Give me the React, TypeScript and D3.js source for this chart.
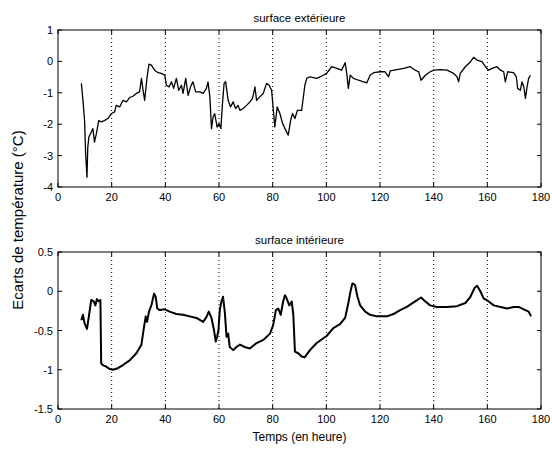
import React from "react";
import * as d3 from "d3";

const xTicks = [0, 20, 40, 60, 80, 100, 120, 140, 160, 180];
const gridHours = [20, 40, 60, 80, 100, 120, 140, 160];
const topTicks = [1, 0, -1, -2, -3, -4];
const bottomTicks = [0.5, 0, -0.5, -1, -1.5];

const extHours = [8.7,9.3,9.9,10.3,10.8,11.1,11.5,12.4,13.0,13.6,14.3,15.2,16.1,17.4,18.6,19.9,21.1,21.7,23.0,24.2,25.5,26.7,27.9,29.2,30.4,31.1,31.7,32.3,33.2,33.9,34.8,36.0,37.3,38.5,39.8,40.4,41.4,42.3,43.1,44.1,45.0,46.0,46.6,47.6,48.5,49.4,50.3,51.3,52.8,54.1,55.3,55.9,56.6,57.2,57.8,58.4,59.3,60.0,60.7,61.3,61.9,62.5,63.4,64.3,65.3,66.2,67.1,67.8,69.0,70.3,71.5,72.5,73.4,74.0,75.2,76.5,77.7,78.7,79.6,80.8,81.7,82.7,83.7,84.6,85.8,86.7,87.4,88.3,89.2,90.8,92.0,92.7,93.9,96.4,98.9,100.1,102.0,103.9,105.7,107.0,107.6,108.2,108.9,110.1,112.0,113.8,115.1,116.3,117.6,120.1,121.9,123.2,123.8,126.3,128.8,131.3,133.1,134.4,135.3,136.9,138.7,140.0,142.5,145.0,147.4,148.7,149.3,149.9,151.8,153.7,154.9,156.2,158.0,159.3,160.5,161.8,163.6,164.9,166.1,166.7,167.6,169.8,170.8,171.3,172.3,172.9,173.6,174.2,174.8,175.4,176.1];
const extValues = [-0.70,-1.24,-1.88,-2.94,-3.69,-2.73,-2.41,-2.25,-2.14,-2.57,-2.30,-1.88,-1.93,-1.88,-1.82,-1.66,-1.61,-1.40,-1.45,-1.24,-1.29,-1.15,-1.11,-1.02,-0.97,-0.54,-0.92,-1.24,-0.49,-0.09,-0.12,-0.28,-0.36,-0.38,-0.44,-0.76,-0.81,-0.65,-0.86,-0.54,-0.92,-0.76,-1.02,-0.54,-1.08,-0.81,-0.65,-0.97,-0.97,-1.02,-0.86,-0.65,-1.13,-2.14,-1.77,-1.66,-2.09,-1.98,-2.14,-1.34,-0.70,-0.65,-1.24,-1.45,-1.29,-1.50,-1.40,-1.56,-1.50,-1.40,-1.29,-1.18,-0.81,-1.24,-1.13,-1.02,-0.70,-0.76,-0.92,-2.09,-1.45,-1.66,-1.98,-2.14,-2.35,-1.88,-1.66,-1.82,-1.56,-1.56,-0.76,-0.54,-0.49,-0.54,-0.44,-0.38,-0.17,-0.22,-0.28,-0.04,-0.38,-0.86,-0.44,-0.54,-0.60,-0.65,-0.68,-0.44,-0.36,-0.33,-0.33,-0.49,-0.30,-0.26,-0.22,-0.17,-0.28,-0.33,-0.60,-0.44,-0.33,-0.28,-0.26,-0.28,-0.38,-0.49,-0.65,-0.38,-0.17,-0.01,0.13,0.04,-0.01,-0.17,-0.28,-0.22,-0.17,-0.28,-0.33,-0.65,-0.33,-0.36,-0.49,-0.86,-0.92,-0.65,-0.81,-1.18,-0.81,-0.54,-0.44];

const intHours = [8.7,9.3,9.9,10.8,11.5,12.4,13.3,13.9,14.5,15.2,15.8,16.1,16.7,18.0,19.2,20.5,22.3,24.2,26.7,29.2,31.1,31.9,32.7,33.2,33.9,34.8,35.8,36.4,37.0,37.9,39.8,41.6,44.1,46.6,49.1,51.6,54.1,55.3,56.2,57.2,58.1,58.8,59.3,59.8,60.3,60.9,61.5,62.2,62.8,63.4,64.0,65.3,66.5,67.8,69.6,71.5,74.0,76.5,79.0,80.2,81.2,82.1,83.0,83.9,84.6,85.2,86.2,87.1,87.7,88.3,89.5,90.8,92.0,93.9,96.4,100.1,102.6,105.1,107.0,108.2,108.9,109.7,110.7,111.6,112.6,114.5,116.3,118.8,122.6,125.0,127.5,130.0,133.1,135.3,136.9,138.7,141.2,145.0,148.7,151.8,153.7,155.2,156.2,157.4,158.6,160.5,162.4,164.9,167.4,169.8,171.7,173.6,175.4,176.3];
const intValues = [-0.37,-0.30,-0.41,-0.48,-0.32,-0.11,-0.13,-0.18,-0.10,-0.13,-0.11,-0.92,-0.94,-0.96,-0.99,-1.00,-0.98,-0.94,-0.88,-0.79,-0.68,-0.49,-0.32,-0.39,-0.26,-0.18,-0.03,-0.07,-0.22,-0.24,-0.23,-0.26,-0.29,-0.30,-0.32,-0.34,-0.39,-0.33,-0.26,-0.34,-0.49,-0.64,-0.58,-0.49,-0.24,-0.13,-0.07,-0.28,-0.58,-0.54,-0.71,-0.75,-0.71,-0.68,-0.71,-0.73,-0.66,-0.62,-0.54,-0.43,-0.24,-0.22,-0.30,-0.13,-0.05,-0.09,-0.18,-0.13,-0.30,-0.77,-0.79,-0.83,-0.84,-0.75,-0.66,-0.57,-0.47,-0.42,-0.34,-0.15,-0.02,0.10,0.08,-0.07,-0.18,-0.26,-0.30,-0.32,-0.32,-0.29,-0.24,-0.20,-0.13,-0.08,-0.13,-0.18,-0.20,-0.20,-0.19,-0.15,-0.07,0.04,0.07,0.00,-0.09,-0.13,-0.18,-0.20,-0.22,-0.20,-0.20,-0.23,-0.26,-0.32];

const FONT = "'Liberation Sans', Arial, sans-serif";
const W = 552;
const H = 451;
const LEFT = 58;
const RIGHT = 541;

type PanelProps = {
  top: number;
  bottom: number;
  domain: [number, number];
  yTicks: number[];
  hours: number[];
  values: number[];
  title: string;
  strokeWidth: number;
};

function Panel({ top, bottom, domain, yTicks, hours, values, title, strokeWidth }: PanelProps) {
  const x = d3.scaleLinear().domain([0, 180]).range([LEFT, RIGHT]);
  const y = d3.scaleLinear().domain(domain).range([bottom, top]);
  const pts: [number, number][] = hours.map((h, i) => [h, values[i]]);
  const line = d3
    .line<[number, number]>()
    .x((d) => x(d[0]))
    .y((d) => y(d[1]));
  const tl = 4;
  return (
    <g>
      <text x={(LEFT + RIGHT) / 2} y={top - 8} textAnchor="middle" fontSize={11.5} fontFamily={FONT} fill="#000">
        {title}
      </text>
      {gridHours.map((h) => (
        <line key={"g" + h} x1={x(h)} x2={x(h)} y1={top} y2={bottom} stroke="#000" strokeWidth={1} strokeDasharray="1,3" />
      ))}
      <path d={line(pts) || ""} fill="none" stroke="#000" strokeWidth={strokeWidth} strokeLinejoin="round" />
      <rect x={LEFT} y={top} width={RIGHT - LEFT} height={bottom - top} fill="none" stroke="#000" strokeWidth={1} />
      {xTicks.map((t) => (
        <g key={"x" + t}>
          <line x1={x(t)} x2={x(t)} y1={bottom} y2={bottom - tl} stroke="#000" />
          <line x1={x(t)} x2={x(t)} y1={top} y2={top + tl} stroke="#000" />
          <text x={x(t)} y={bottom + 14} textAnchor="middle" fontSize={11} fontFamily={FONT} fill="#000">
            {t}
          </text>
        </g>
      ))}
      {yTicks.map((t) => (
        <g key={"y" + t}>
          <line x1={LEFT} x2={LEFT + tl} y1={y(t)} y2={y(t)} stroke="#000" />
          <line x1={RIGHT} x2={RIGHT - tl} y1={y(t)} y2={y(t)} stroke="#000" />
          <text x={LEFT - 5} y={y(t) + 4} textAnchor="end" fontSize={11} fontFamily={FONT} fill="#000">
            {t}
          </text>
        </g>
      ))}
    </g>
  );
}

export default function App() {
  return (
    <svg width={W} height={H} style={{ position: "absolute", left: 0, top: 0, background: "#fff" }}>
      <rect x={0} y={0} width={W} height={H} fill="#fff" />
      <Panel top={30} bottom={187} domain={[-4, 1]} yTicks={topTicks} hours={extHours} values={extValues} title="surface extérieure" strokeWidth={1.3} />
      <Panel top={252} bottom={409} domain={[-1.5, 0.5]} yTicks={bottomTicks} hours={intHours} values={intValues} title="surface intérieure" strokeWidth={2} />
      <text x={(LEFT + RIGHT) / 2} y={441} textAnchor="middle" fontSize={12} fontFamily={FONT} fill="#000">
        Temps (en heure)
      </text>
      <text transform={`translate(23,220) rotate(-90)`} textAnchor="middle" fontSize={15} fontFamily={FONT} fill="#000">
        Ecarts de température (°C)
      </text>
    </svg>
  );
}
